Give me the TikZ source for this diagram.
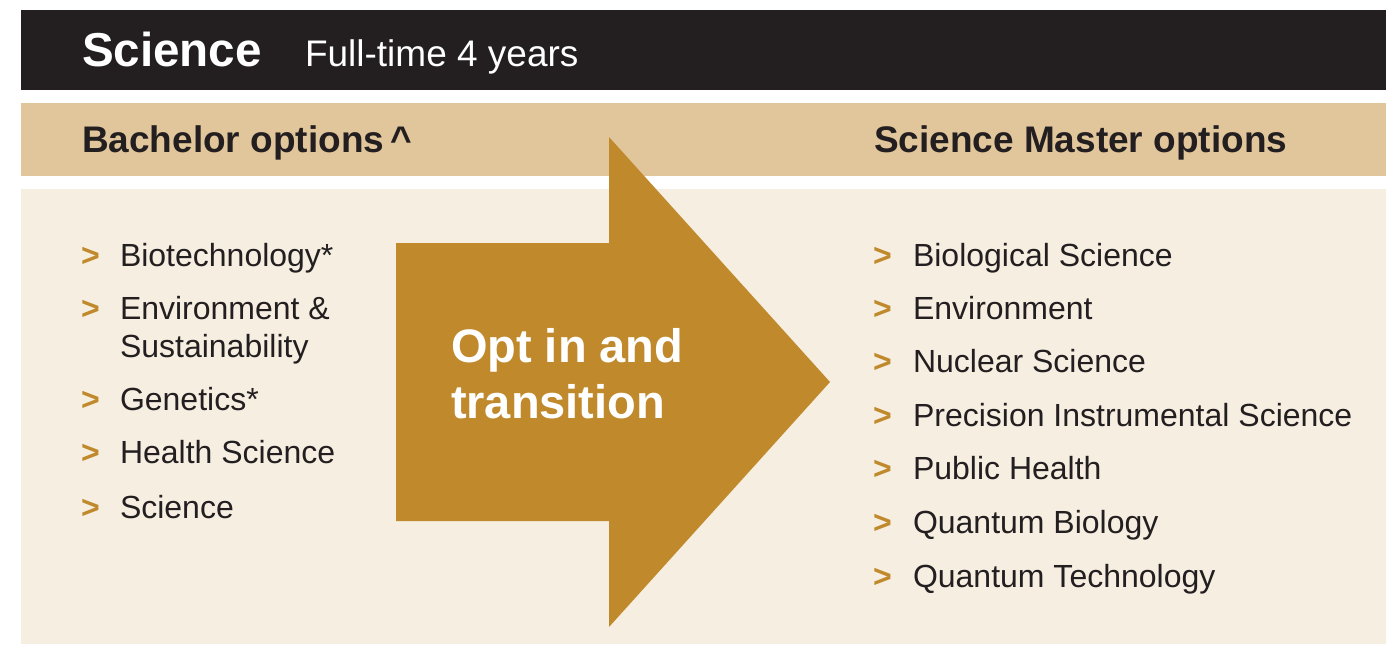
\documentclass[tikz,border=0pt]{standalone}
\usepackage{fontspec}
\setmainfont{Liberation Sans}
\usepackage{xcolor}
\usepackage{tikz}
\definecolor{ink}{HTML}{231F20}
\definecolor{tan}{HTML}{E1C69B}
\definecolor{cream}{HTML}{F6EEE1}
\definecolor{gold}{HTML}{C0892C}

\begin{document}
\begin{tikzpicture}[x=0.5pt,y=-0.5pt]
\tikzstyle{every node}=[inner sep=0pt,outer sep=0pt,anchor=base west];
\tikzstyle{item}=[font=\fontsize{16}{19}\selectfont,text=ink];
\tikzstyle{chev}=[font=\fontsize{16}{19}\selectfont\bfseries,text=gold];
\tikzstyle{head}=[font=\fontsize{18.5}{22}\selectfont\bfseries,text=ink];
\useasboundingbox (0,0) rectangle (1386,644);
\fill[white] (0,0) rectangle (1386,644);
\fill[ink] (21,10) rectangle (1386,90);
\fill[tan] (21,103) rectangle (1386,176);
\fill[cream] (21,189) rectangle (1386,644);
\fill[gold] (396,243) -- (609,243) -- (609,137) -- (830,382) -- (609,627) -- (609,521) -- (396,521) -- cycle;
\path (82,66) node (title) {\color{white}\fontsize{23.8}{28}\selectfont\bfseries Science};
\path (305,66) node (span) {\color{white}\fontsize{18.5}{22}\selectfont Full-time 4 years};
\path (82,152) node[head] (bach) {Bachelor options\,\textasciicircum};
\path (874,152) node[head] (mast) {Science Master options};
\path (451,362) node (opt1) {\color{white}\fontsize{23.5}{28}\selectfont\bfseries Opt in and};
\path (451,418) node (opt2) {\color{white}\fontsize{23.5}{28}\selectfont\bfseries transition};
% bachelor options
\path (81,266) node[chev] (b1c) {>};
\path (120,266) node[item] (b1) {Biotechnology*};
\path (81,319) node[chev] (b2c) {>};
\path (120,319) node[item] (b2) {Environment \&};
\path (120,357) node[item] (b2b) {Sustainability};
\path (81,410) node[chev] (b3c) {>};
\path (120,410) node[item] (b3) {Genetics*};
\path (81,463) node[chev] (b4c) {>};
\path (120,463) node[item] (b4) {Health Science};
\path (81,518) node[chev] (b5c) {>};
\path (120,518) node[item] (b5) {Science};
% master options
\path (873,266) node[chev] (m1c) {>};
\path (913,266) node[item] (m1) {Biological Science};
\path (873,319) node[chev] (m2c) {>};
\path (913,319) node[item] (m2) {Environment};
\path (873,372) node[chev] (m3c) {>};
\path (913,372) node[item] (m3) {Nuclear Science};
\path (873,426) node[chev] (m4c) {>};
\path (913,426) node[item] (m4) {Precision Instrumental Science};
\path (873,479) node[chev] (m5c) {>};
\path (913,479) node[item] (m5) {Public Health};
\path (873,533) node[chev] (m6c) {>};
\path (913,533) node[item] (m6) {Quantum Biology};
\path (873,587) node[chev] (m7c) {>};
\path (913,587) node[item] (m7) {Quantum Technology};
\end{tikzpicture}
\end{document}
